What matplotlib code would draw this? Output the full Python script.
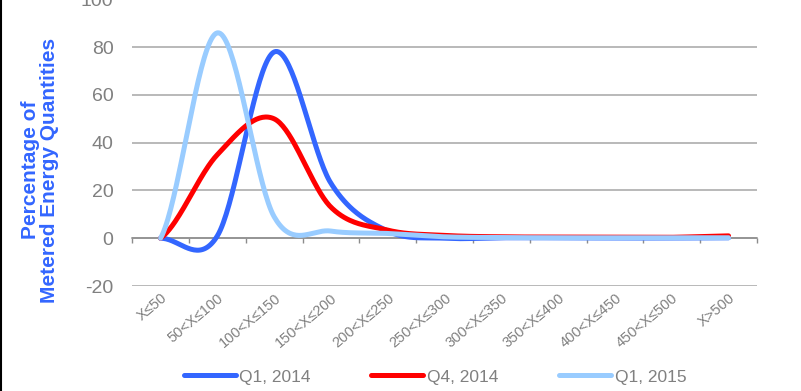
import numpy as np
import matplotlib
matplotlib.use('Agg')
import matplotlib.pyplot as plt
from matplotlib.lines import Line2D

plt.rcParams['font.family'] = ['Liberation Sans', 'DejaVu Sans']
plt.rcParams['axes.unicode_minus'] = False

# Metered energy distribution by size band
categories = ['X≤50', '50<X≤100', '100<X≤150', '150<X≤200', '200<X≤250',
              '250<X≤300', '300<X≤350', '350<X≤400', '400<X≤450',
              '450<X≤500', 'X>500']
q1_2014 = [0, 1, 78, 23, 3, 0, 0.2, 0.2, 0.1, 0.1, 0.2]
q4_2014 = [0, 35, 50, 13, 3.4, 1.2, 0.6, 0.5, 0.4, 0.4, 1]
q1_2015 = [0, 86, 9, 3, 2, 0.6, 0.3, 0.2, 0.2, 0.2, 0.2]

series_names = ['Q1, 2014', 'Q4, 2014', 'Q1, 2015']
series_colors = ['#3366FF', '#FF0000', '#99CCFF']


def smooth(y, n=40):
    # Catmull-Rom style cubic Bezier through every point (spreadsheet "smoothed line")
    y = np.asarray(y, dtype=float)
    x = np.arange(len(y), dtype=float)
    xs, ys = [], []
    for i in range(len(y) - 1):
        y0 = y[i - 1] if i > 0 else y[i]
        y3 = y[i + 2] if i + 2 < len(y) else y[i + 1]
        c1 = y[i] + (y[i + 1] - y0) / 6
        c2 = y[i + 1] - (y3 - y[i]) / 6
        t = np.linspace(0, 1, n)
        ys.append((1 - t) ** 3 * y[i] + 3 * (1 - t) ** 2 * t * c1
                  + 3 * (1 - t) * t ** 2 * c2 + t ** 3 * y[i + 1])
        xs.append(x[i] + t)
    return np.concatenate(xs), np.concatenate(ys)


fig = plt.figure(figsize=(8.01, 3.91), dpi=100)
ax = fig.add_axes([0.165, 0.2685, 0.78, 0.733])

for vals, name, col in zip([q1_2014, q4_2014, q1_2015], series_names, series_colors):
    sx, sy = smooth(vals)
    ax.plot(sx, sy, color=col, lw=3.6, solid_capstyle='round', label=name, zorder=3)

grey = '#8C8C8C'
ax.set_xlim(-0.5, len(categories) - 0.5)
ax.set_ylim(-20, 100)
ax.set_yticks(np.arange(-20, 101, 20))
ax.yaxis.grid(True, color='#A6A6A6', lw=1.1)
ax.set_axisbelow(True)

for side in ['top', 'right', 'left']:
    ax.spines[side].set_visible(False)
ax.spines['bottom'].set_position(('data', 0))
ax.spines['bottom'].set_color(grey)
ax.spines['bottom'].set_linewidth(1.1)

# boundary tick marks on the zero line, category labels pushed below the plot
ax.set_xticks(np.arange(-0.5, len(categories), 1.0))
ax.set_xticklabels([])
ax.tick_params(axis='x', which='major', direction='out', length=3.5, width=1, color=grey)
ax.set_xticks(np.arange(len(categories)), minor=True)
ax.set_xticklabels(categories, minor=True, rotation=40, ha='right',
                   rotation_mode='anchor', fontsize=10.5, color='#808080')
ax.tick_params(axis='x', which='minor', length=0, pad=38)

ax.tick_params(axis='y', length=0, pad=13.5, labelsize=14, labelcolor='#808080')

fig.text(0.05, 0.565, 'Percentage of\nMetered Energy Quantities', rotation=90,
         ha='center', va='center', multialignment='center',
         fontsize=15, fontweight='bold', color='#3366FF', linespacing=1.0)

ax.legend(loc='center', bbox_to_anchor=(0.543, 0.036), bbox_transform=fig.transFigure,
          ncol=3, frameon=False, fontsize=12.5, labelcolor='#808080',
          handlelength=3.0, handletextpad=0.2, columnspacing=3.5)

fig.add_artist(Line2D([0.001, 0.001], [0, 1], color='black', lw=1.5,
                      transform=fig.transFigure))

fig.savefig('out.png', dpi=100)
